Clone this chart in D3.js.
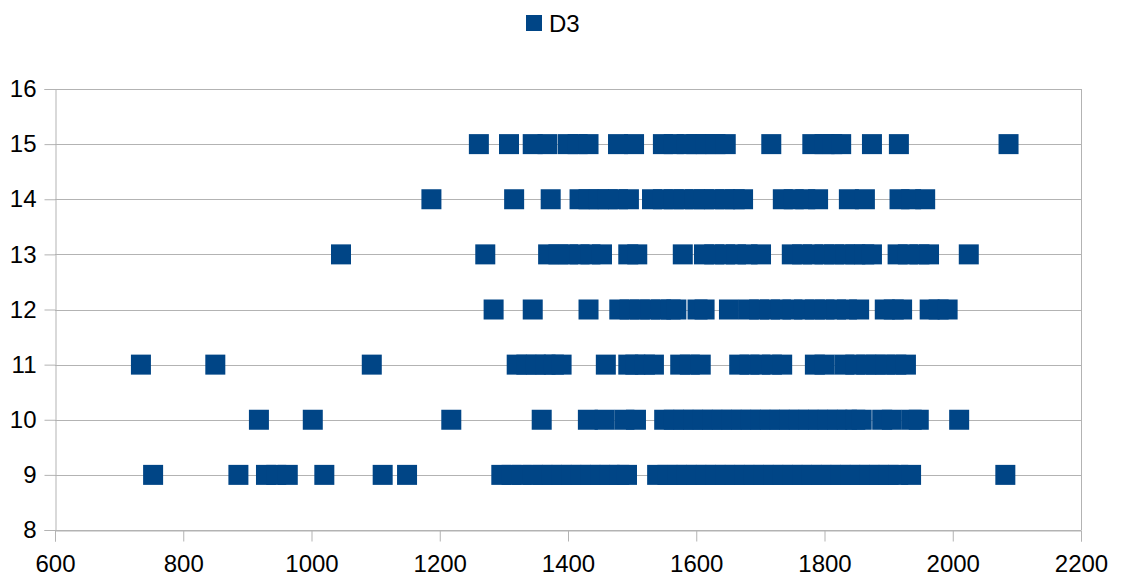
<!DOCTYPE html>
<html><head><meta charset="utf-8">
<script src="https://cdn.jsdelivr.net/npm/d3@7"></script>
<style>
html,body{margin:0;padding:0;background:#fff;}
svg{display:block;font-family:"Liberation Sans",Arial,sans-serif;}
</style></head>
<body>
<svg id="chart" width="1122" height="577"></svg>
<script>
const seriesName = "D3";
const xTicks = [600, 800, 1000, 1200, 1400, 1600, 1800, 2000, 2200];
const yTicks = [8, 9, 10, 11, 12, 13, 14, 15, 16];

const row15 = [1261, 1308, 1345, 1368, 1400, 1415, 1432, 1478, 1503, 1548, 1565, 1585, 1600, 1615, 1630, 1646, 1717, 1781, 1800, 1812, 1826, 1874, 1916, 2087];
const row14 = [1187, 1316, 1373, 1418, 1432, 1448, 1462, 1478, 1495, 1531, 1548, 1565, 1580, 1598, 1612, 1628, 1645, 1660, 1673, 1735, 1752, 1770, 1790, 1838, 1863, 1917, 1935, 1957];
const row13 = [1046, 1271, 1369, 1385, 1400, 1418, 1435, 1453, 1494, 1508, 1579, 1612, 1628, 1645, 1662, 1680, 1701, 1749, 1765, 1782, 1800, 1815, 1832, 1848, 1862, 1874, 1914, 1930, 1948, 1963, 2025];
const row12 = [1284, 1345, 1432, 1480, 1496, 1512, 1528, 1545, 1560, 1569, 1602, 1613, 1651, 1682, 1698, 1715, 1732, 1750, 1768, 1785, 1800, 1818, 1835, 1854, 1894, 1908, 1921, 1964, 1978, 1992];
const row11 = [734, 850, 1094, 1320, 1335, 1350, 1365, 1378, 1390, 1459, 1494, 1505, 1520, 1534, 1575, 1590, 1607, 1667, 1683, 1700, 1718, 1734, 1785, 1800, 1831, 1848, 1865, 1880, 1895, 1912, 1927];
const row10 = [918, 1002, 1218, 1359, 1431, 1457, 1488, 1506, 1550, 1565, 1580, 1595, 1610, 1625, 1640, 1655, 1670, 1685, 1700, 1715, 1730, 1745, 1760, 1775, 1790, 1805, 1820, 1835, 1848, 1858, 1890, 1905, 1936, 1947, 2010];
const row9 = [753, 886, 929, 945, 963, 1020, 1111, 1149, 1296, 1312, 1328, 1345, 1360, 1375, 1390, 1405, 1420, 1435, 1450, 1465, 1480, 1492, 1539, 1555, 1570, 1585, 1600, 1615, 1630, 1645, 1660, 1675, 1690, 1705, 1720, 1735, 1750, 1765, 1780, 1795, 1810, 1825, 1840, 1855, 1870, 1885, 1900, 1915, 1935, 2082];

const rows = [[9, row9], [10, row10], [11, row11], [12, row12], [13, row13], [14, row14], [15, row15]];
const points = [];
rows.forEach(([y, xs]) => xs.forEach(x => points.push({x, y})));

const color = "#004586";
const grid = "#b3b3b3";
const plot = {left: 55, right: 1081, top: 89, bottom: 530};
const svg = d3.select("#chart");

const x = d3.scaleLinear().domain([600, 2200]).range([plot.left, plot.right]);
const y = d3.scaleLinear().domain([8, 16]).range([plot.bottom, plot.top]);

// horizontal gridlines
svg.append("g").selectAll("line").data(yTicks).join("line")
  .attr("x1", plot.left).attr("x2", plot.right)
  .attr("y1", d => Math.round(y(d)) + 0.5).attr("y2", d => Math.round(y(d)) + 0.5)
  .attr("stroke", grid).attr("stroke-width", 1);
// right border
svg.append("line").attr("x1", plot.right + 0.5).attr("x2", plot.right + 0.5)
  .attr("y1", plot.top).attr("y2", plot.bottom).attr("stroke", grid);

// x axis
const xAxis = d3.axisBottom(x).tickValues(xTicks).tickSize(11).tickPadding(13).tickFormat(d3.format("d"));
const gx = svg.append("g").attr("transform", `translate(0,${Math.round(plot.bottom) + 0.5})`).call(xAxis);
gx.select(".domain").attr("stroke", grid);
gx.selectAll(".tick line").attr("stroke", grid);
gx.selectAll("text").attr("font-size", 24).attr("fill", "#000").attr("font-family", "Liberation Sans, Arial, sans-serif");

// y axis
const yAxis = d3.axisLeft(y).tickValues(yTicks).tickSize(11).tickPadding(8).tickFormat(d3.format("d"));
const gy = svg.append("g").attr("transform", `translate(${plot.left + 0.5},0)`).call(yAxis);
gy.select(".domain").attr("stroke", grid);
gy.selectAll(".tick line").attr("stroke", grid);
gy.selectAll("text").attr("font-size", 24).attr("fill", "#000").attr("font-family", "Liberation Sans, Arial, sans-serif");

// points
const s = 20;
svg.append("g").selectAll("rect").data(points).join("rect")
  .attr("x", d => x(d.x) - s / 2).attr("y", d => y(d.y) - s / 2)
  .attr("width", s).attr("height", s).attr("fill", color);

// legend
const lg = svg.append("g");
lg.append("rect").attr("x", 526).attr("y", 15).attr("width", 16).attr("height", 16).attr("fill", color);
lg.append("text").attr("x", 549).attr("y", 32).attr("font-size", 24).attr("fill", "#000").text(seriesName);
</script>
</body></html>
